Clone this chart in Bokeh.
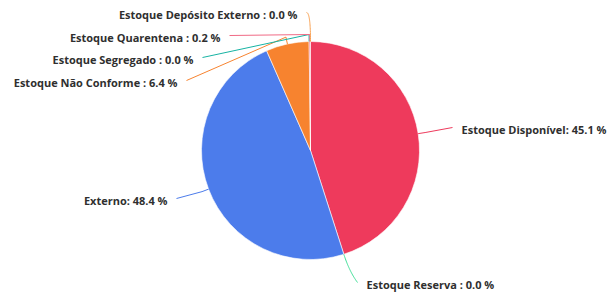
import numpy as np
from bokeh.plotting import figure
from bokeh.models import Range1d, ColumnDataSource
from bokeh.embed import file_html
from bokeh.resources import INLINE
from bokeh.core.properties import value

# ---- data ----
names = ["Estoque Disponível", "Estoque Reserva", "Externo", "Estoque Não Conforme",
         "Estoque Segregado", "Estoque Quarentena", "Estoque Depósito Externo"]
percent = [45.1, 0.0, 48.4, 6.4, 0.0, 0.2, 0.0]
labels = ["Estoque Disponível: 45.1 %", "Estoque Reserva : 0.0 %", "Externo: 48.4 %",
          "Estoque Não Conforme : 6.4 %", "Estoque Segregado : 0.0 %",
          "Estoque Quarentena : 0.2 %", "Estoque Depósito Externo : 0.0 %"]
colors = ["#EE3A5C", "#3FDF97", "#4C7CEB", "#F7832F", "#17B3A3", "#F06A85", "#F9A050"]

# ---- layout (page pixel coords) ----
W, H = 608, 292
CX, CY, R = 310, 150, 109
line_len1 = [7, 18, 7, 7, 7, 7, 29]          # radial first segment
label_end = [(452, 127), (357, 282), (176, 198), (186, 80), (202, 57), (229, 35), (306, 12)]
label_side = ["right", "right", "left", "left", "left", "left", "left"]
smooth = [False, True, False, False, False, False, True]
GAP = 9


def Y(py):
    return H - py


vals = np.array(percent, dtype=float)
frac = vals / vals.sum()
cum_end = np.cumsum(frac)
cum_start = cum_end - frac
mid = (cum_start + cum_end) / 2

p = figure(width=W, height=H, output_backend="svg", toolbar_location=None,
           x_range=Range1d(0, W), y_range=Range1d(0, H),
           min_border=0, outline_line_color=None, background_fill_color="white")
p.axis.visible = False
p.grid.visible = False

keep = [i for i in range(len(vals)) if vals[i] > 0]
wsrc = ColumnDataSource(dict(
    x=[CX] * len(keep), y=[Y(CY)] * len(keep),
    start=[float(np.pi / 2 - cum_end[i] * 2 * np.pi) for i in keep],
    end=[float(np.pi / 2 - cum_start[i] * 2 * np.pi) for i in keep],
    color=[colors[i] for i in keep]))
p.wedge(x="x", y="y", radius=R, start_angle="start", end_angle="end",
        direction="anticlock", fill_color="color", line_color="white",
        line_width=0.6, source=wsrc)

xs, ys, tx, ty, ta = [], [], [], [], []
for i in range(len(vals)):
    th = mid[i] * 2 * np.pi
    ux, uy = np.sin(th), -np.cos(th)
    p0 = (CX + R * ux, CY + R * uy)
    p1 = (CX + (R + line_len1[i]) * ux, CY + (R + line_len1[i]) * uy)
    p2 = label_end[i]
    if smooth[i]:
        t = np.linspace(0, 1, 30)
        lx = (1 - t) ** 2 * p0[0] + 2 * (1 - t) * t * p1[0] + t ** 2 * p2[0]
        ly = (1 - t) ** 2 * p0[1] + 2 * (1 - t) * t * p1[1] + t ** 2 * p2[1]
    else:
        lx = np.array([p0[0], p1[0], p2[0]])
        ly = np.array([p0[1], p1[1], p2[1]])
    xs.append([float(v) for v in lx])
    ys.append([float(H - v) for v in ly])
    if label_side[i] == "right":
        tx.append(p2[0] + GAP)
        ta.append("left")
    else:
        tx.append(p2[0] - GAP)
        ta.append("right")
    ty.append(Y(p2[1] + 2))

p.multi_line(xs=xs, ys=ys, line_color=colors, line_width=1)

tsrc = ColumnDataSource(dict(x=tx, y=ty, text=labels, align=ta))
p.text(x="x", y="y", text="text", text_align="align", text_baseline="middle",
       text_font=value("Open Sans"), text_font_size="11px", text_font_style="bold",
       text_color="#2F2F2F", source=tsrc)

open("out.html", "w").write(file_html(p, INLINE))
